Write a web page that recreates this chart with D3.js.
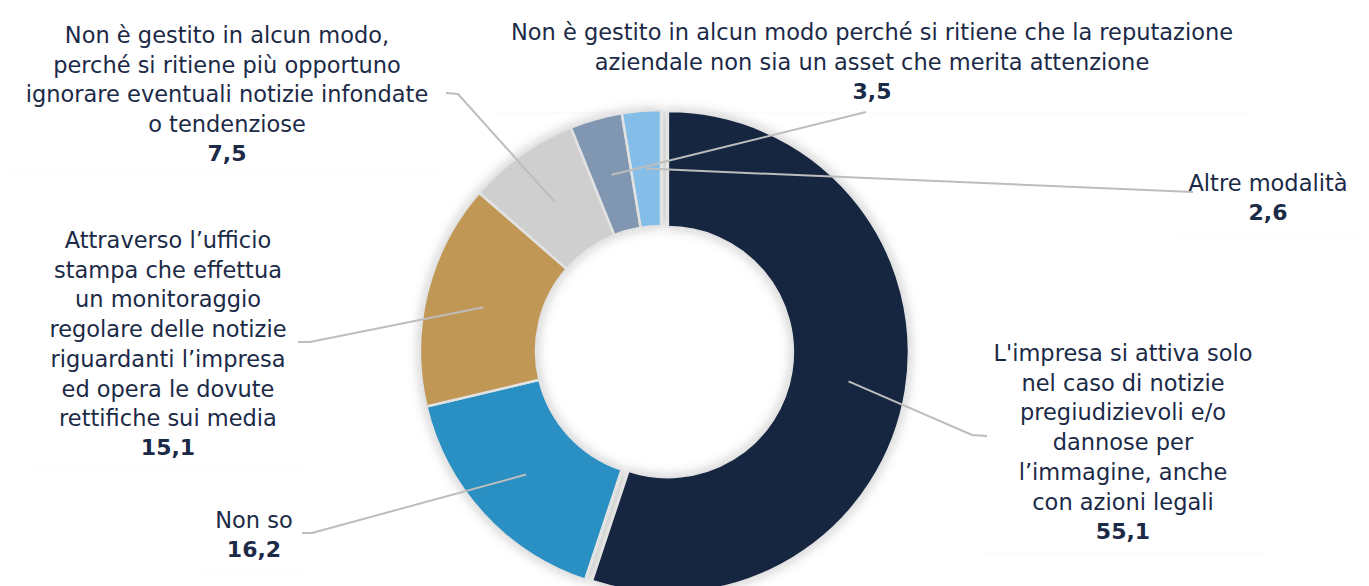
<!DOCTYPE html>
<html>
<head>
<meta charset="utf-8">
<script src="https://cdn.jsdelivr.net/npm/d3@7"></script>
<style>
  html, body { margin: 0; padding: 0; background: #fff; }
  svg { display: block; font-family: "DejaVu Sans", sans-serif; }
</style>
</head>
<body>
<svg id="chart" width="1369" height="586"></svg>
<script>
// Dati (percentuali)
const categories = [
  ["L'impresa si attiva solo", "nel caso di notizie", "pregiudizievoli e/o", "dannose per", "l\u2019immagine, anche", "con azioni legali"],
  ["Non so"],
  ["Attraverso l\u2019ufficio", "stampa che effettua", "un monitoraggio", "regolare delle notizie", "riguardanti l\u2019impresa", "ed opera le dovute", "rettifiche sui media"],
  ["Non \u00e8 gestito in alcun modo,", "perch\u00e9 si ritiene pi\u00f9 opportuno", "ignorare eventuali notizie infondate", "o tendenziose"],
  ["Non \u00e8 gestito in alcun modo perch\u00e9 si ritiene che la reputazione", "aziendale non sia un asset che merita attenzione"],
  ["Altre modalit\u00e0"]
];
const values = [55.1, 16.2, 15.1, 7.5, 3.5, 2.6];
const colors = ["#14253f", "#2a8fc2", "#c19757", "#d0cfcf", "#8197b1", "#84bee8"];

// Posizione delle etichette (centro testo, prima riga) e gomito della linea guida
const labelLayout = [
  { x: 1123, y: 353, elbow: [972, 435], end: [987, 436] },
  { x: 254,  y: 520, elbow: [312, 533], end: [302, 533] },
  { x: 168,  y: 240, elbow: [310, 342], end: [298, 342] },
  { x: 227,  y: 35,  elbow: [458, 94],  end: [446, 93] },
  { x: 872,  y: 32,  elbow: [866, 112], end: [866, 112] },
  { x: 1268, y: 183, elbow: [1193, 192], end: [1193, 192] }
];

const width = 1369, height = 586;
const cx = 661, cy = 351;
const outerR = 241, innerR = 125;
const lineH = 29.7;
const textColor = "#1b2a47";

const svg = d3.select("#chart");

const defs = svg.append("defs");
defs.append("filter").attr("id", "shadow")
  .attr("x", "-20%").attr("y", "-20%").attr("width", "140%").attr("height", "140%")
  .append("feDropShadow")
  .attr("dx", 0).attr("dy", 0).attr("stdDeviation", 6)
  .attr("flood-color", "#000").attr("flood-opacity", 0.22);
defs.append("filter").attr("id", "boxshadow")
  .attr("x", "-10%").attr("y", "-10%").attr("width", "120%").attr("height", "120%")
  .append("feDropShadow")
  .attr("dx", 0).attr("dy", 1).attr("stdDeviation", 1.5)
  .attr("flood-color", "#000").attr("flood-opacity", 0.025);

const pie = d3.pie().sort(null).value(d => d);
const arcs = pie(values);
const arc = d3.arc().innerRadius(innerR).outerRadius(outerR);

// fetta principale leggermente esplosa
const explode = 7;
function offset(d, i) {
  if (i !== 0) return [0, 0];
  const a = (d.startAngle + d.endAngle) / 2;
  return [Math.sin(a) * explode, -Math.cos(a) * explode];
}

// Riquadri leggeri delle etichette
const boxes = svg.append("g").attr("class", "label-boxes");

const donut = svg.append("g")
  .attr("transform", `translate(${cx},${cy})`)
  .attr("filter", "url(#shadow)");

donut.selectAll("path")
  .data(arcs)
  .join("path")
    .attr("d", arc)
    .attr("transform", (d, i) => `translate(${offset(d, i)})`)
    .attr("fill", (d, i) => colors[i])
    .attr("stroke", "#e2e2e2")
    .attr("stroke-width", 2.5)
    .attr("stroke-linejoin", "miter");

// Linee guida
const leaders = svg.append("g").attr("class", "leaders");
leaders.selectAll("path")
  .data(arcs)
  .join("path")
    .attr("d", (d, i) => {
      const c = arc.centroid(d);
      const o = offset(d, i);
      const p0 = [cx + c[0] + o[0], cy + c[1] + o[1]];
      const L = labelLayout[i];
      return d3.line()([p0, L.elbow, L.end]);
    })
    .attr("fill", "none")
    .attr("stroke", "#bdbdbd")
    .attr("stroke-width", 2);

// Etichette
const labels = svg.append("g").attr("class", "labels");
const labelGroups = labels.selectAll("g")
  .data(arcs)
  .join("g");

labelGroups.each(function(d, i) {
  const g = d3.select(this);
  const L = labelLayout[i];
  const lines = categories[i];
  lines.forEach((t, k) => {
    g.append("text")
      .attr("x", L.x)
      .attr("y", L.y + k * lineH)
      .attr("text-anchor", "middle")
      .attr("dominant-baseline", "central")
      .attr("fill", textColor)
      .attr("font-size", "22.5px")
      .text(t);
  });
  g.append("text")
    .attr("x", L.x)
    .attr("y", L.y + lines.length * lineH)
    .attr("text-anchor", "middle")
    .attr("dominant-baseline", "central")
    .attr("fill", textColor)
    .attr("font-size", "22px")
    .attr("font-weight", "bold")
    .text(d3.format(".1f")(values[i]).replace(".", ","));

  const bb = this.getBBox();
  boxes.append("rect")
    .attr("x", bb.x - 14)
    .attr("y", bb.y - 10)
    .attr("width", bb.width + 28)
    .attr("height", bb.height + 18)
    .attr("fill", "#fff")
    .attr("filter", "url(#boxshadow)");
});
</script>
</body>
</html>
